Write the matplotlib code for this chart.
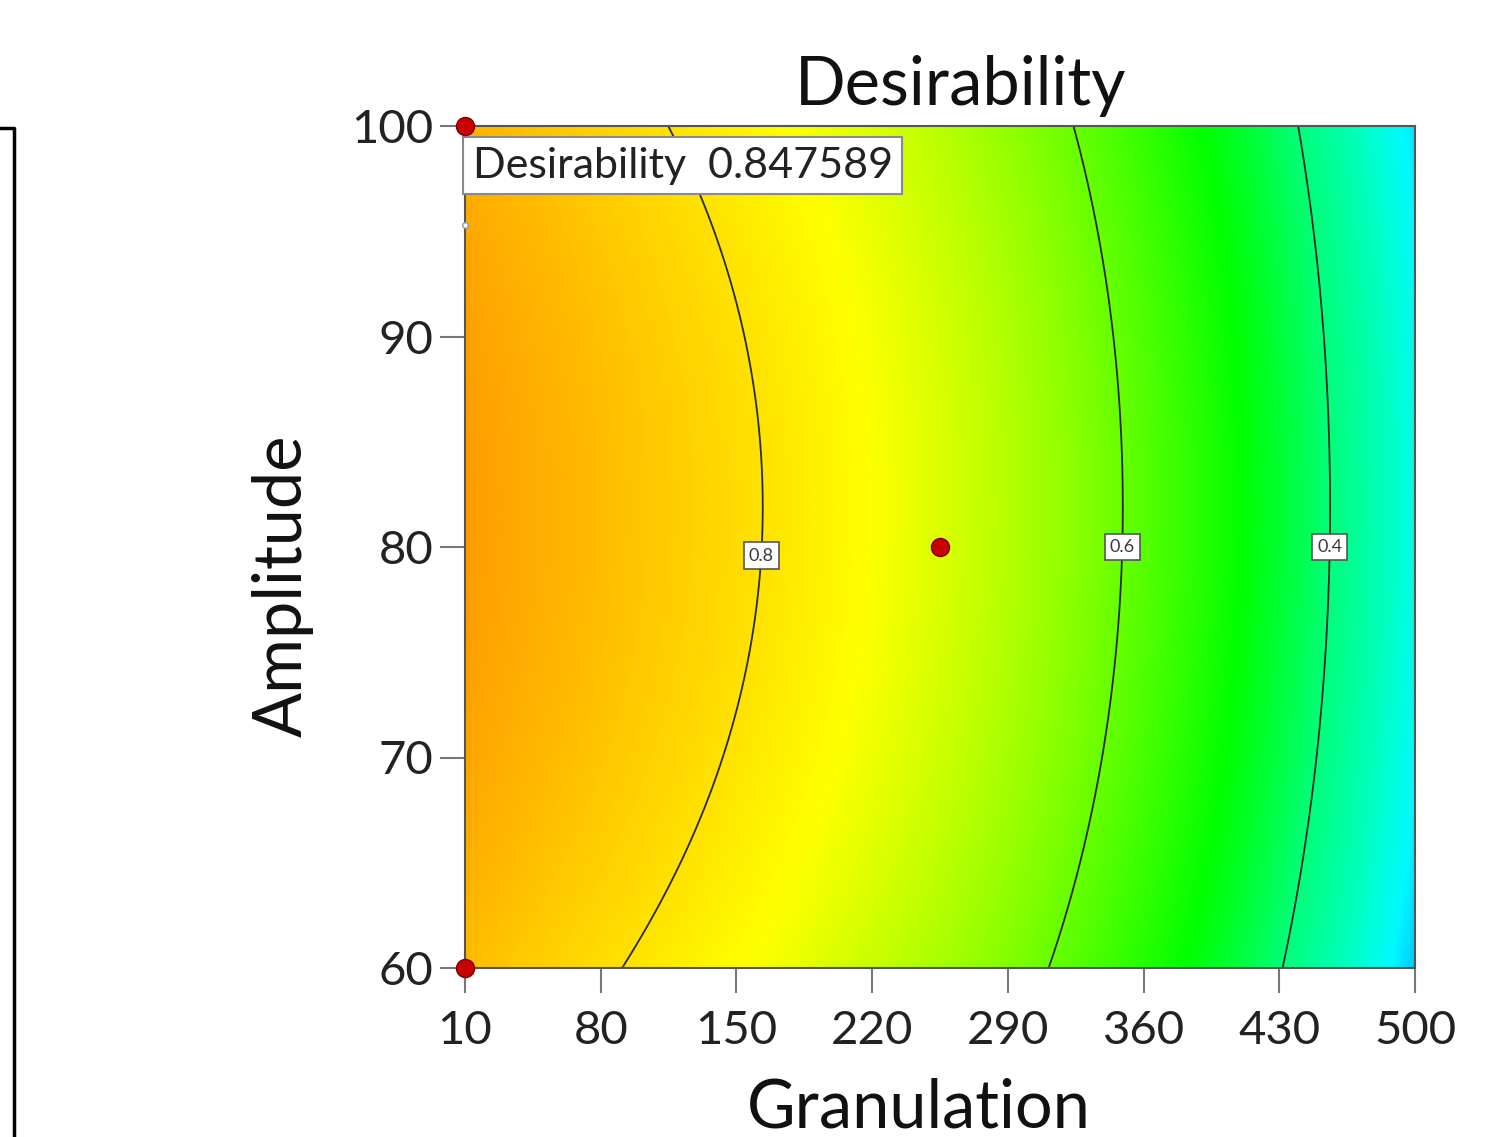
import numpy as np
import matplotlib
matplotlib.use("Agg")
import matplotlib.pyplot as plt
from matplotlib.colors import LinearSegmentedColormap
from matplotlib.lines import Line2D

plt.rcParams['font.family'] = ['Lato', 'DejaVu Sans']

# factor ranges (actual units)
gran_range = [10, 500]
amp_range = [60, 100]
gran_ticks = [10, 80, 150, 220, 290, 360, 430, 500]
amp_ticks = [60, 70, 80, 90, 100]

# response model in coded units, coefficients
# D = c0 + c1*G + c2*G^2 + c3*G^3 + b2*A + b22*A^2
c0, c1, c2, c3 = 0.7179, -0.2544, -0.1161, -0.0562
b2, b22 = 0.0085, -0.0445

contour_levels = [0.4, 0.6, 0.8]
label_spots = [(455, 80), (348, 80), (162, 79.6)]

# colour scale: desirability value -> colour (read from the shading)
scale_vals = [0.20, 0.24, 0.27, 0.32, 0.40, 0.495, 0.755, 0.92]
scale_cols = ['#0096ff', '#00cdff', '#00faff', '#00ffc8', '#00ff78',
              '#00ff00', '#ffff00', '#ff9800']

# design points shown as red dots
pts_gran = [10, 10, 255]
pts_amp = [100, 60, 80]

flag_text = "Desirability  0.847589"
flag_point = (10, 95.3)

W, H = 1507, 1137
fig = plt.figure(figsize=(W / 100, H / 100), dpi=100)
ax = fig.add_axes([465 / W, 1 - 968 / H, 950 / W, 842 / H])

g = np.linspace(gran_range[0], gran_range[1], 400)
a = np.linspace(amp_range[0], amp_range[1], 300)
gg, aa = np.meshgrid(g, a)
G = (gg - 255) / 245
A = (aa - 80) / 20
D = c0 + c1 * G + c2 * G ** 2 + c3 * G ** 3 + b2 * A + b22 * A ** 2

vmin, vmax = scale_vals[0], scale_vals[-1]
nodes = [(v - vmin) / (vmax - vmin) for v in scale_vals]
cmap = LinearSegmentedColormap.from_list("de", list(zip(nodes, scale_cols)))
ax.pcolormesh(gg, aa, D, cmap=cmap, vmin=vmin, vmax=vmax, shading='gouraud')

cs = ax.contour(gg, aa, D, levels=contour_levels, colors='#2a2a2a', linewidths=1.3)
labels = ax.clabel(cs, inline=False, fontsize=13, fmt='%.1f', manual=label_spots)
for t in labels:
    t.set_rotation(0)
    t.set_color('#3a3a3a')
    t.set_bbox(dict(boxstyle='square,pad=0.28', fc='white', ec='#555555', lw=1.2))
    t.set_zorder(5)

ax.plot(pts_gran, pts_amp, 'o', ms=13, mfc='#c80000', mec='#7a0000', mew=1,
        clip_on=False, zorder=10)
ax.plot(*flag_point, 'o', ms=4, mfc='white', mec='#8898c0', mew=1,
        clip_on=False, zorder=9)

ax.text(0.008, 0.953, flag_text, transform=ax.transAxes, fontsize=31,
        color='#222222', ha='left', va='center', zorder=8,
        bbox=dict(boxstyle='square,pad=0.22', fc='white', ec='#8a8a8a', lw=1.5))

ax.set_xlim(gran_range)
ax.set_ylim(amp_range)
ax.set_xticks(gran_ticks)
ax.set_yticks(amp_ticks)
ax.tick_params(axis='both', direction='out', length=18, width=1.5,
               color='#777777', labelsize=34, labelcolor='#222222')
ax.tick_params(axis='x', pad=12)
ax.tick_params(axis='y', pad=5)
for s in ax.spines.values():
    s.set_color('#555555')
    s.set_linewidth(1.5)

fig.text(961 / W, 1 - 105 / H, 'Desirability', fontsize=48, ha='center',
         va='baseline', color='#111111')
fig.text(919 / W, 1 - 1127 / H, 'Granulation', fontsize=48, ha='center',
         va='baseline', color='#111111')
fig.text(302 / W, 1 - 586 / H, 'Amplitude', fontsize=48, ha='center',
         va='baseline', rotation=90, rotation_mode='anchor', color='#111111')

# frame fragment at the left edge of the picture
fig.add_artist(Line2D([0, 14 / W, 14 / W], [1 - 128 / H, 1 - 128 / H, 0],
                      transform=fig.transFigure, color='black', lw=2.5))

fig.savefig('out.png', dpi=100)
